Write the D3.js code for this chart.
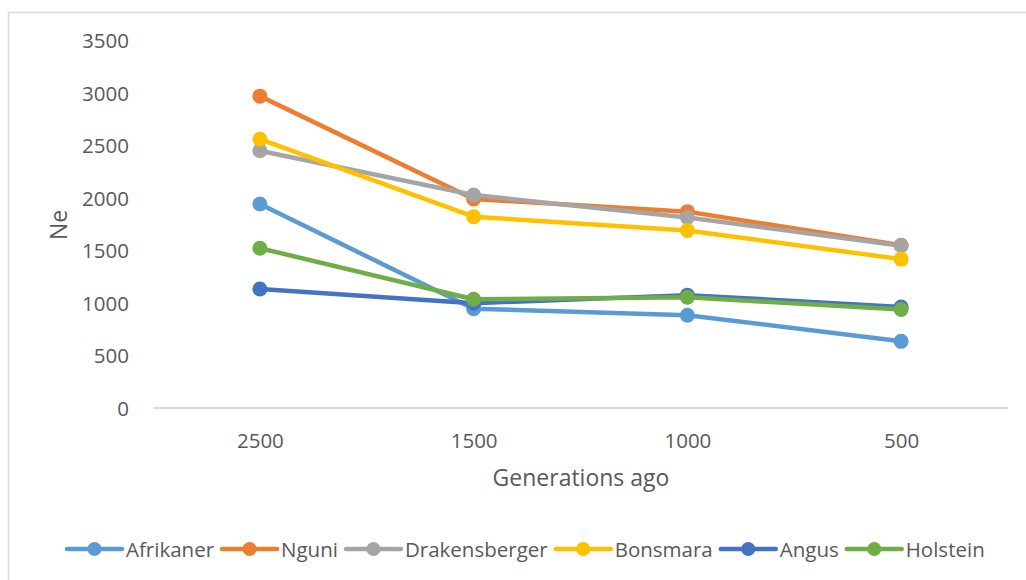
<!DOCTYPE html>
<html>
<head>
<meta charset="utf-8">
<script src="https://cdn.jsdelivr.net/npm/d3@7"></script>
<style>
  body { margin: 0; background: #fff; }
  text { font-family: "Open Sans", sans-serif; fill: #595959; }
</style>
</head>
<body>
<svg id="chart" width="1026" height="580"></svg>
<script>
// Data
const generations = ["2500", "1500", "1000", "500"];
const yTicks = [0, 500, 1000, 1500, 2000, 2500, 3000, 3500];
const seriesNames = ["Afrikaner", "Nguni", "Drakensberger", "Bonsmara", "Angus", "Holstein"];
const afrikaner = [1943, 945, 884, 635];
const nguni = [2970, 1990, 1870, 1550];
const drakensberger = [2450, 2028, 1815, 1545];
const bonsmara = [2560, 1822, 1690, 1418];
const angus = [1133, 998, 1075, 962];
const holstein = [1522, 1036, 1055, 938];
const colors = ["#5B9BD5", "#ED7D31", "#A5A5A5", "#FFC000", "#4472C4", "#70AD47"];

const allValues = [afrikaner, nguni, drakensberger, bonsmara, angus, holstein];
const series = seriesNames.map((name, i) => ({
    name: name,
    color: colors[i],
    values: allValues[i].map((v, j) => ({gen: generations[j], v: v}))
}));

const svg = d3.select("#chart");

// chart border (runs off the right and bottom edges of the picture)
svg.append("rect")
    .attr("x", 8.5).attr("y", 12.5)
    .attr("width", 1100).attr("height", 700)
    .attr("fill", "none")
    .attr("stroke", "#d9d9d9")
    .attr("stroke-width", 1.5);

const xScale = d3.scalePoint()
    .domain(generations)
    .range([153, 1008])
    .padding(0.5);

const yScale = d3.scaleLinear()
    .domain([0, 3500])
    .range([408, 40.5]);

// y axis labels
const yAxis = d3.axisLeft(yScale)
    .tickValues(yTicks)
    .tickFormat(d3.format("d"))
    .tickSize(0)
    .tickPadding(0);
const yg = svg.append("g")
    .attr("transform", "translate(129,0)")
    .call(yAxis);
yg.select(".domain").remove();
yg.selectAll("text")
    .attr("font-size", 20.5)
    .attr("fill", "#595959")
    .attr("font-family", "Open Sans")
    .attr("dy", "0.36em");

// x axis line + labels
const xAxis = d3.axisBottom(xScale).tickSize(0).tickPadding(0);
const xg = svg.append("g")
    .attr("transform", "translate(0,408)")
    .call(xAxis);
xg.select(".domain")
    .attr("d", "M153,0H1008")
    .attr("stroke", "#d9d9d9")
    .attr("stroke-width", 2);
xg.selectAll("text")
    .attr("font-size", 20.5)
    .attr("fill", "#595959")
    .attr("font-family", "Open Sans")
    .attr("dy", null)
    .attr("y", 40);

// axis titles
svg.append("text")
    .attr("x", 581).attr("y", 486)
    .attr("text-anchor", "middle")
    .attr("font-size", 23)
    .text("Generations ago");

svg.append("text")
    .attr("transform", "translate(67,225) rotate(-90)")
    .attr("text-anchor", "middle")
    .attr("font-size", 23)
    .text("Ne");

// lines and markers
const line = d3.line()
    .x(d => xScale(d.gen))
    .y(d => yScale(d.v));

series.forEach(s => {
    const g = svg.append("g");
    g.append("path")
        .datum(s.values)
        .attr("d", line)
        .attr("fill", "none")
        .attr("stroke", s.color)
        .attr("stroke-width", 4.5)
        .attr("stroke-linejoin", "round");
    g.selectAll("circle")
        .data(s.values)
        .enter()
        .append("circle")
        .attr("cx", d => xScale(d.gen))
        .attr("cy", d => yScale(d.v))
        .attr("r", 7.5)
        .attr("fill", s.color);
});

// legend
const legend = svg.append("g");
let lx = 67;
const ly = 549;
series.forEach(s => {
    const item = legend.append("g");
    item.append("line")
        .attr("x1", lx).attr("x2", lx + 55)
        .attr("y1", ly).attr("y2", ly)
        .attr("stroke", s.color)
        .attr("stroke-width", 4.5)
        .attr("stroke-linecap", "round");
    item.append("circle")
        .attr("cx", lx + 27.5).attr("cy", ly)
        .attr("r", 7)
        .attr("fill", s.color);
    const t = item.append("text")
        .attr("x", lx + 59).attr("y", ly + 7.5)
        .attr("font-size", 20.5)
        .text(s.name);
    lx += 59 + t.node().getComputedTextLength() + 8;
});
</script>
</body>
</html>
